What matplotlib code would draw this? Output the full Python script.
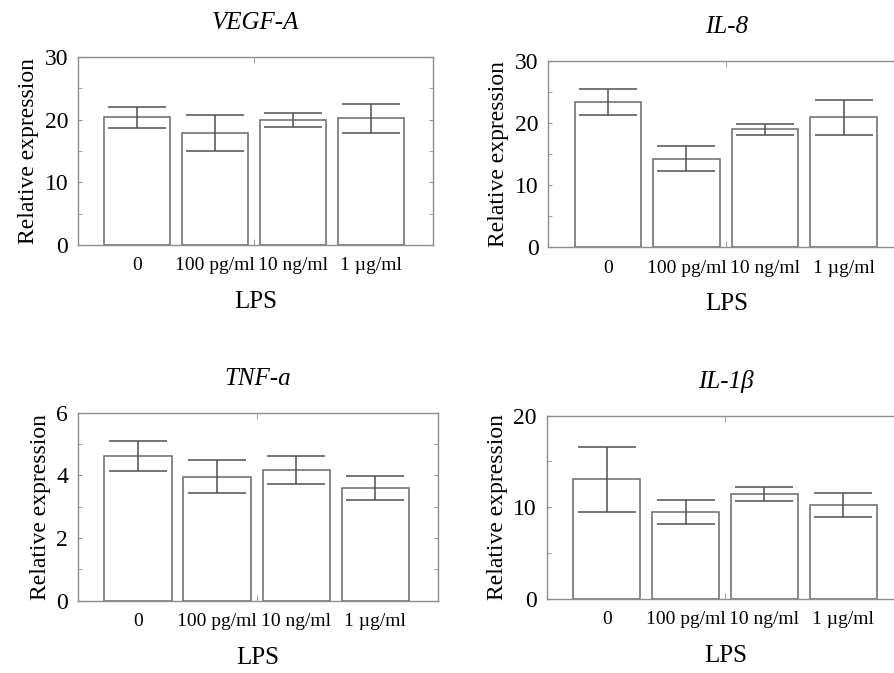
import numpy as np
import matplotlib
matplotlib.use("Agg")
import matplotlib.pyplot as plt
from matplotlib.ticker import MultipleLocator, FixedLocator

plt.rcParams["font.family"] = ["Liberation Serif", "DejaVu Serif"]

# %% data
doses = ["0", "100 pg/ml", "10 ng/ml", "1 \u00b5g/ml"]

vegf_mean = [20.35, 17.85, 20.0, 20.25]
vegf_err = [1.75, 2.9, 1.1, 2.3]

il8_mean = [23.45, 14.3, 19.0, 20.95]
il8_err = [2.1, 2.05, 0.85, 2.85]

tnf_mean = [4.62, 3.96, 4.17, 3.61]
tnf_err = [0.48, 0.52, 0.45, 0.38]

il1b_mean = [13.05, 9.47, 11.45, 10.2]
il1b_err = [3.55, 1.28, 0.8, 1.3]

panels = [
    ("VEGF-A", vegf_mean, vegf_err, 30, 10, 5),
    ("IL-8", il8_mean, il8_err, 30, 10, 5),
    ("TNF-a", tnf_mean, tnf_err, 6, 2, 1),
    ("IL-1\u03b2", il1b_mean, il1b_err, 20, 10, 5),
]
positions = [
    [0.0872, 0.636, 0.397, 0.2793],
    [0.6133, 0.6325, 0.3996, 0.2768],
    [0.0872, 0.1074, 0.4023, 0.2793],
    [0.6115, 0.1104, 0.4016, 0.2719],
]

# %% plot
fig = plt.figure(figsize=(8.94, 6.73), dpi=100)
spine_col = "#8e8e8e"
bar_col = "#6a6a6a"
err_col = "#505050"

for pos, (title, mean, err, ymax, major, minor) in zip(positions, panels):
    ax = fig.add_axes(pos)
    x = np.arange(len(doses))
    ax.bar(x, mean, width=0.85, color="white", edgecolor=bar_col, linewidth=1.1, zorder=2)
    ax.errorbar(x, mean, yerr=err, fmt="none", ecolor=err_col, elinewidth=1.1,
                capsize=21, capthick=1.1, zorder=3)
    ax.set_xlim(-0.76, 3.79)
    ax.set_ylim(0, ymax)
    ax.set_xticks(x)
    ax.set_xticklabels(doses)
    ax.xaxis.set_minor_locator(FixedLocator([1.5]))
    ax.yaxis.set_major_locator(MultipleLocator(major))
    ax.yaxis.set_minor_locator(MultipleLocator(minor))
    ax.tick_params(axis="x", which="major", length=0, pad=9, labelsize=14)
    ax.tick_params(axis="x", which="minor", length=4, direction="in", top=True,
                   bottom=True, color=spine_col)
    ax.tick_params(axis="y", which="both", direction="in", length=3, left=True,
                   right=True, color=spine_col, labelsize=17, pad=7)
    for sp in ax.spines.values():
        sp.set_color(spine_col)
        sp.set_linewidth(1.0)
    ax.set_ylabel("Relative expression", fontsize=17, labelpad=4)
    ax.set_xlabel("LPS", fontsize=18, labelpad=12)
    ax.set_title(title, fontsize=18, style="italic", pad=20)

fig.savefig("out.png", dpi=100)
